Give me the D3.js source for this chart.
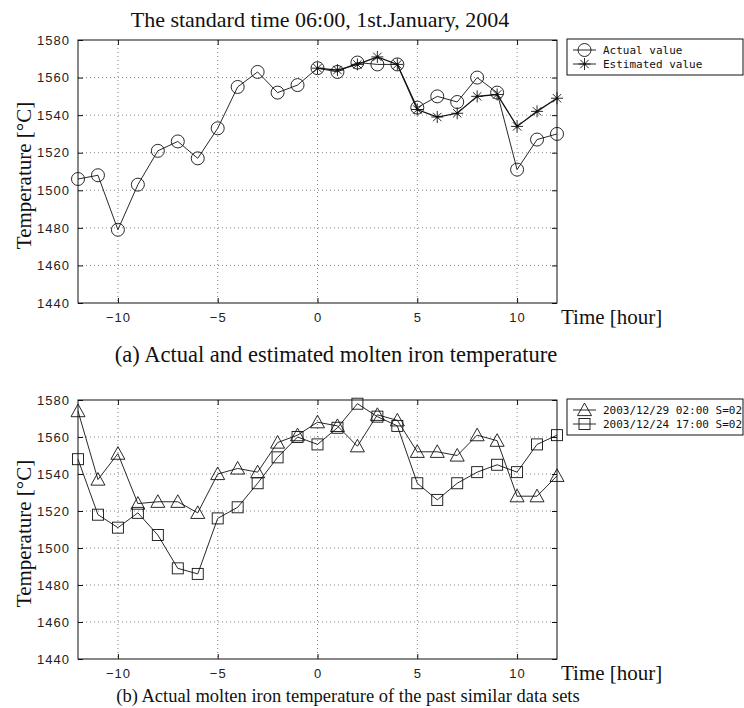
<!DOCTYPE html>
<html>
<head>
<meta charset="utf-8">
<script src="https://cdn.jsdelivr.net/npm/d3@7"></script>
<style>
  body { margin: 0; background: #fff; }
  .tick text { font-family: "Liberation Sans", Arial, sans-serif; font-size: 13px; letter-spacing: 1px; fill: #222; }
  .serif { font-family: "Liberation Serif", "Times New Roman", serif; fill: #111; }
  .leg { font-family: "DejaVu Sans Mono", monospace; font-size: 11px; fill: #111; }
</style>
</head>
<body>
<svg id="chart" width="744" height="708"></svg>
<script>
// hours relative to the standard time
const hours = [-12, -11, -10, -9, -8, -7, -6, -5, -4, -3, -2, -1, 0, 1, 2, 3, 4, 5, 6, 7, 8, 9, 10, 11, 12];
const estHours = [0, 1, 2, 3, 4, 5, 6, 7, 8, 9, 10, 11, 12];

// (a) actual and estimated values
const actual = [1506, 1508, 1479, 1503, 1521, 1526, 1517, 1533, 1555, 1563, 1552, 1556, 1565, 1563, 1568, 1567, 1567, 1544, 1550, 1547, 1560, 1552, 1511, 1527, 1530];
const estimated = [1565, 1564, 1567, 1571, 1567, 1543, 1539, 1541, 1550, 1551, 1534, 1542, 1549];

// (b) past similar data sets
const past1229 = [1574, 1537, 1551, 1524, 1525, 1525, 1519, 1540, 1543, 1541, 1557, 1561, 1568, 1566, 1555, 1572, 1569, 1552, 1552, 1550, 1561, 1558, 1528, 1528, 1539];
const past1224 = [1548, 1518, 1511, 1519, 1507, 1489, 1486, 1516, 1522, 1535, 1549, 1560, 1556, 1565, 1578, 1571, 1566, 1535, 1526, 1535, 1541, 1545, 1541, 1556, 1561];

const xTicks = [-10, -5, 0, 5, 10];
const yTicks = [1440, 1460, 1480, 1500, 1520, 1540, 1560, 1580];

const svg = d3.select("#chart");
const left = 78, right = 557;

// marker shapes
function drawMarker(g, type, cx, cy) {
  if (type === "circle") {
    g.append("circle").attr("cx", cx).attr("cy", cy).attr("r", 6.5)
      .attr("fill", "none").attr("stroke", "#111").attr("stroke-width", 0.9);
  } else if (type === "star") {
    const r = 6;
    [[0, -r, 0, r], [-r, 0, r, 0], [-r * 0.7, -r * 0.7, r * 0.7, r * 0.7], [-r * 0.7, r * 0.7, r * 0.7, -r * 0.7]]
      .forEach(l => g.append("line")
        .attr("x1", cx + l[0]).attr("y1", cy + l[1]).attr("x2", cx + l[2]).attr("y2", cy + l[3])
        .attr("stroke", "#111").attr("stroke-width", 0.9));
    g.append("circle").attr("cx", cx).attr("cy", cy).attr("r", 1.3).attr("fill", "#111");
  } else if (type === "triangle") {
    const s = 7;
    g.append("path")
      .attr("d", `M${cx},${cy - s}L${cx + s},${cy + s * 0.8}L${cx - s},${cy + s * 0.8}Z`)
      .attr("fill", "none").attr("stroke", "#111").attr("stroke-width", 0.9);
  } else if (type === "square") {
    g.append("rect").attr("x", cx - 5.5).attr("y", cy - 5.5).attr("width", 11).attr("height", 11)
      .attr("fill", "none").attr("stroke", "#111").attr("stroke-width", 0.9);
  }
}

function panel(top, bottom, series) {
  const x = d3.scaleLinear().domain([-12, 12]).range([left, right]);
  const y = d3.scaleLinear().domain([1440, 1580]).range([bottom, top]);
  const g = svg.append("g");

  // dotted grid
  g.selectAll(".gx").data(xTicks).enter().append("line")
    .attr("x1", d => x(d)).attr("x2", d => x(d)).attr("y1", top).attr("y2", bottom)
    .attr("stroke", "#666").attr("stroke-width", 0.8).attr("stroke-dasharray", "1,3");
  g.selectAll(".gy").data(yTicks.slice(1, -1)).enter().append("line")
    .attr("x1", left).attr("x2", right).attr("y1", d => y(d)).attr("y2", d => y(d))
    .attr("stroke", "#666").attr("stroke-width", 0.8).attr("stroke-dasharray", "1,3");

  // axes with inward ticks
  g.append("g").attr("transform", `translate(0,${bottom})`)
    .call(d3.axisBottom(x).tickValues(xTicks).tickSize(-5).tickPadding(10).tickFormat(d => d < 0 ? "\u2212" + Math.abs(d) : d))
    .call(a => a.select(".domain").remove());
  g.append("g").attr("transform", `translate(0,${top})`)
    .call(d3.axisTop(x).tickValues(xTicks).tickSize(-5).tickFormat(""))
    .call(a => a.select(".domain").remove());
  g.append("g").attr("transform", `translate(${left},0)`)
    .call(d3.axisLeft(y).tickValues(yTicks).tickSize(-5).tickPadding(8).tickFormat(d3.format("d")))
    .call(a => a.select(".domain").remove());
  g.append("g").attr("transform", `translate(${right},0)`)
    .call(d3.axisRight(y).tickValues(yTicks).tickSize(-5).tickFormat(""))
    .call(a => a.select(".domain").remove());
  g.selectAll(".tick line").attr("stroke", "#111");
  g.append("rect").attr("x", left).attr("y", top).attr("width", right - left).attr("height", bottom - top)
    .attr("fill", "none").attr("stroke", "#111").attr("stroke-width", 1);

  // series
  series.forEach(s => {
    const pts = s.xs.map((h, i) => [x(h), y(s.values[i])]);
    g.append("path").attr("d", d3.line()(pts))
      .attr("fill", "none").attr("stroke", "#111").attr("stroke-width", s.width || 0.9);
    pts.forEach(p => drawMarker(g, s.marker, p[0], p[1]));
  });

  // axis labels
  g.append("text").attr("class", "serif")
    .attr("transform", `translate(31,${(top + bottom) / 2 + 4}) rotate(-90)`)
    .attr("text-anchor", "middle").style("font-size", "21px")
    .text("Temperature [\u00B0C]");
  g.append("text").attr("class", "serif").attr("x", 561).attr("y", bottom + 21)
    .style("font-size", "21px").text("Time [hour]");

  // legend
  const ly = top - 1;
  g.append("rect").attr("x", 567).attr("y", ly).attr("width", 176).attr("height", 36)
    .attr("fill", "#fff").attr("stroke", "#111").attr("stroke-width", 1);
  series.forEach((s, i) => {
    const yy = ly + 11 + i * 14;
    g.append("line").attr("x1", 573).attr("x2", 596).attr("y1", yy).attr("y2", yy)
      .attr("stroke", "#111").attr("stroke-width", 0.9);
    drawMarker(g, s.marker, 584.5, yy);
    g.append("text").attr("class", "leg").attr("x", 603).attr("y", yy + 4).text(s.name);
  });
}

panel(40, 303, [
  { name: "Actual value", xs: hours, values: actual, marker: "circle" },
  { name: "Estimated value", xs: estHours, values: estimated, marker: "star", width: 1.3 }
]);
panel(400, 659, [
  { name: "2003/12/29 02:00 S=02", xs: hours, values: past1229, marker: "triangle" },
  { name: "2003/12/24 17:00 S=02", xs: hours, values: past1224, marker: "square" }
]);

// titles and captions
svg.append("text").attr("class", "serif").attr("x", 320).attr("y", 27)
  .attr("text-anchor", "middle").style("font-size", "22px")
  .text("The standard time 06:00, 1st.January, 2004");
svg.append("text").attr("class", "serif").attr("x", 336).attr("y", 362)
  .attr("text-anchor", "middle").style("font-size", "22.5px")
  .text("(a) Actual and estimated molten iron temperature");
svg.append("text").attr("class", "serif").attr("x", 348).attr("y", 702)
  .attr("text-anchor", "middle").style("font-size", "18.5px")
  .text("(b) Actual molten iron temperature of the past similar data sets");
</script>
</body>
</html>
